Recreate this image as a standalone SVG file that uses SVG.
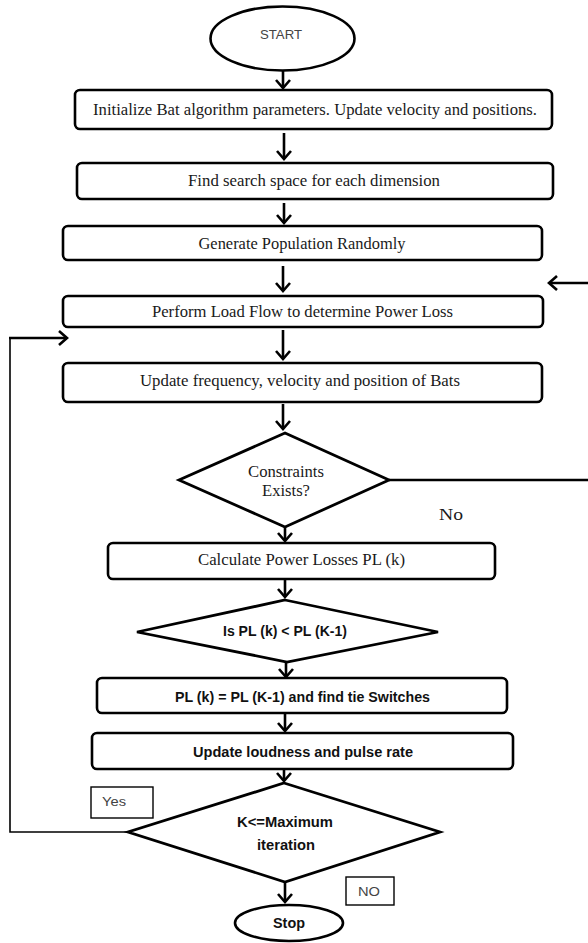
<svg xmlns="http://www.w3.org/2000/svg" width="588" height="943" viewBox="0 0 588 943">
<style>
.box{fill:#fff;stroke:#000;stroke-width:2.6}
.dia{fill:#fff;stroke:#000;stroke-width:2.8;stroke-linejoin:miter}
.lbl{fill:#fff;stroke:#000;stroke-width:1.4}
.ser{font-family:"Liberation Serif","Times New Roman",serif;font-size:16.5px;fill:#1a1a1a;text-anchor:middle;dominant-baseline:central}
.sb{font-family:"Liberation Sans",Arial,sans-serif;font-weight:bold;font-size:14px;fill:#111;text-anchor:middle;dominant-baseline:central}
.sg{font-family:"Liberation Sans",Arial,sans-serif;font-size:13px;fill:#444;text-anchor:middle;dominant-baseline:central}
.ar{fill:none;stroke:#000;stroke-width:2.6;marker-end:url(#chev)}
.ln{fill:none;stroke:#000;stroke-width:2.6}
.thin{fill:none;stroke:#000;stroke-width:1.6}
</style>
<defs>
<marker id="chev" viewBox="-2 -2 14 18" refX="8" refY="7" markerWidth="14" markerHeight="18" markerUnits="userSpaceOnUse" orient="auto" overflow="visible">
<path d="M0,0 L8,7 L0,14" fill="none" stroke="#000" stroke-width="2.6" stroke-linejoin="miter"/>
</marker>
</defs>
<rect width="588" height="943" fill="#fff"/>
<g id="connectors">
<line class="ar" x1="283" y1="70" x2="283" y2="88"/>
<line class="ar" x1="284" y1="133" x2="284" y2="159"/>
<line class="ar" x1="284" y1="203" x2="284" y2="223"/>
<line class="ar" x1="283" y1="266" x2="283" y2="291"/>
<line class="ar" x1="283" y1="330" x2="283" y2="359"/>
<line class="ar" x1="283" y1="404" x2="283" y2="429"/>
<line class="ar" x1="285" y1="527" x2="285" y2="541"/>
<line class="ar" x1="285" y1="580" x2="285" y2="597"/>
<line class="ar" x1="286" y1="662" x2="286" y2="677"/>
<line class="ar" x1="285" y1="714" x2="285" y2="731"/>
<line class="ar" x1="284" y1="770" x2="284" y2="781"/>
<line class="ar" x1="285" y1="882" x2="285" y2="902"/>
<line class="ar" x1="588" y1="283" x2="549" y2="283"/>
<line class="ln" x1="389" y1="480" x2="588" y2="480"/>
<polyline class="thin" points="128,832 10,832 10,338"/>
<line class="ar" x1="9" y1="338" x2="67" y2="338"/>
</g>
<g id="start">
<ellipse cx="282.5" cy="38.5" rx="72" ry="32" class="box"/>
<text class="sg" x="281" y="34" textLength="42" lengthAdjust="spacingAndGlyphs">START</text>
</g>
<g id="init">
<rect class="box" x="75" y="90" width="477" height="39" rx="5"/>
<text class="ser" x="315" y="109" textLength="444" lengthAdjust="spacingAndGlyphs">Initialize Bat algorithm parameters. Update velocity and positions.</text>
</g>
<g id="search">
<rect class="box" x="77" y="163" width="476" height="36" rx="5"/>
<text class="ser" x="314" y="180.5" textLength="252" lengthAdjust="spacingAndGlyphs">Find search space for each dimension</text>
</g>
<g id="generate">
<rect class="box" x="63" y="226" width="479" height="34" rx="5"/>
<text class="ser" x="302" y="243" textLength="207" lengthAdjust="spacingAndGlyphs">Generate Population Randomly</text>
</g>
<g id="loadflow">
<rect class="box" x="63" y="296" width="480" height="31" rx="5"/>
<text class="ser" x="302.5" y="311.5" textLength="301" lengthAdjust="spacingAndGlyphs">Perform Load Flow to determine Power Loss</text>
</g>
<g id="update">
<rect class="box" x="63" y="363" width="479" height="39" rx="5"/>
<text class="ser" x="300" y="380.5" textLength="320" lengthAdjust="spacingAndGlyphs">Update frequency, velocity and position of Bats</text>
</g>
<g id="constraints">
<polygon class="dia" points="285,433 389,480 285,527 179,480"/>
<text class="ser" x="286" y="471.5" textLength="76" lengthAdjust="spacingAndGlyphs">Constraints</text>
<text class="ser" x="286" y="490.5" textLength="48" lengthAdjust="spacingAndGlyphs">Exists?</text>
</g>
<g id="no-label">
<text class="ser" x="451" y="514" textLength="24" lengthAdjust="spacingAndGlyphs">No</text>
</g>
<g id="calc">
<rect class="box" x="108" y="543" width="387" height="36" rx="5"/>
<text class="ser" x="301.5" y="559.5" textLength="207" lengthAdjust="spacingAndGlyphs">Calculate Power Losses PL (k)</text>
</g>
<g id="compare">
<polygon class="dia" points="285,600 438,632 287,662 137,632"/>
<text class="sb" x="285" y="630.5" textLength="124" lengthAdjust="spacingAndGlyphs">Is PL (k) &lt; PL (K-1)</text>
</g>
<g id="assign">
<rect class="box" x="97" y="678" width="410" height="35" rx="5"/>
<text class="sb" x="302.5" y="696.5" textLength="255" lengthAdjust="spacingAndGlyphs">PL (k) = PL (K-1) and find tie Switches</text>
</g>
<g id="loudness">
<rect class="box" x="92" y="733" width="421" height="36" rx="5"/>
<text class="sb" x="303" y="751.5" textLength="220" lengthAdjust="spacingAndGlyphs">Update loudness and pulse rate</text>
</g>
<g id="maxiter">
<polygon class="dia" points="284,783 440,832 285,882 128,832"/>
<text class="sb" x="285" y="822" textLength="96" lengthAdjust="spacingAndGlyphs">K&lt;=Maximum</text>
<text class="sb" x="286" y="845" textLength="58" lengthAdjust="spacingAndGlyphs">iteration</text>
</g>
<g id="yes-label">
<rect class="lbl" x="91" y="787" width="62" height="31"/>
<text class="sg" x="114" y="801" textLength="24" lengthAdjust="spacingAndGlyphs">Yes</text>
</g>
<g id="no2-label">
<rect class="lbl" x="346" y="877" width="48" height="28"/>
<text class="sg" x="369" y="891.5" textLength="22" lengthAdjust="spacingAndGlyphs">NO</text>
</g>
<g id="stop">
<ellipse cx="289" cy="923" rx="54" ry="18" class="box"/>
<text class="sb" x="289" y="922.5" font-size="15" textLength="32" lengthAdjust="spacingAndGlyphs">Stop</text>
</g>
</svg>
